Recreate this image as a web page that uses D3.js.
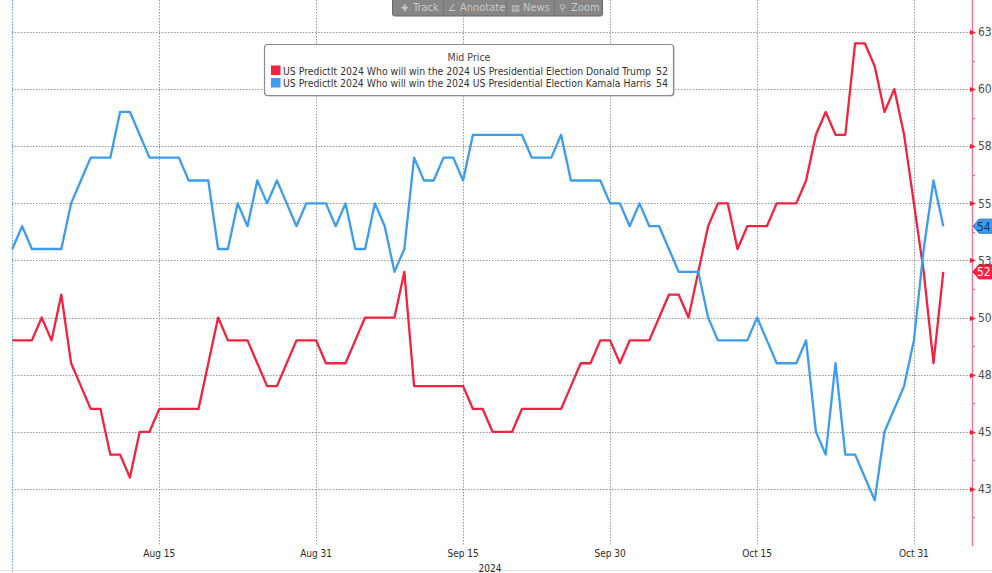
<!DOCTYPE html>
<html>
<head>
<meta charset="utf-8">
<script src="https://cdn.jsdelivr.net/npm/d3@7"></script>
<style>
  body { margin: 0; background: #fff; }
  svg { display: block; }
</style>
</head>
<body>
<script>
  var w = 992
  var h = 573

  //DATA (one point per day, starting 31 Jul 2024)
  var startDate = "2024-07-31";

  var trump = [49, 49, 49, 50, 49, 51, 48, 47, 46, 46,
      44, 44, 43, 45, 45, 46, 46, 46, 46, 46,
      48, 50, 49, 49, 49, 48, 47, 47, 48, 49,
      49, 49, 48, 48, 48, 49, 50, 50, 50, 50,
      52, 47, 47, 47, 47, 47, 47, 46, 46, 45,
      45, 45, 46, 46, 46, 46, 46, 47, 48, 48,
      49, 49, 48, 49, 49, 49, 50, 51, 51, 50,
      52, 54, 55, 55, 53, 54, 54, 54, 55, 55,
      55, 56, 58, 59, 58, 58, 62, 62, 61, 59,
      60, 58, 55, 52, 48, 52];

  var harris = [53, 54, 53, 53, 53, 53, 55, 56, 57, 57,
      57, 59, 59, 58, 57, 57, 57, 57, 56, 56,
      56, 53, 53, 55, 54, 56, 55, 56, 55, 54,
      55, 55, 55, 54, 55, 53, 53, 55, 54, 52,
      53, 57, 56, 56, 57, 57, 56, 58, 58, 58,
      58, 58, 58, 57, 57, 57, 58, 56, 56, 56,
      56, 55, 55, 54, 55, 54, 54, 53, 52, 52,
      52, 50, 49, 49, 49, 49, 50, 49, 48, 48,
      48, 49, 45, 44, 48, 44, 44, 43, 42, 45,
      46, 47, 49, 53, 56, 54];

  var seriesNames = ["US PredictIt 2024 Who will win the 2024 US Presidential Election Donald Trump",
      "US PredictIt 2024 Who will win the 2024 US Presidential Election Kamala Harris"];
  var seriesColors = ["#f3223f", "#3c9cee"];

  var yTicks = [42.5, 45, 47.5, 50, 52.5, 55, 57.5, 60, 62.5];
  var xTickDates = ["2024-08-15", "2024-08-31", "2024-09-15", "2024-09-30", "2024-10-15", "2024-10-31"];
  var xTickLabels = ["Aug 15", "Aug 31", "Sep 15", "Sep 30", "Oct 15", "Oct 31"];
  var yearLabel = "2024";
  var legendTitle = "Mid Price";
  var toolbarItems = [["\u271A", "Track"], ["\u2220", "Annotate"], ["\u25A4", "News"], ["\u26B2", "Zoom"]];

  var parse = d3.timeParse("%Y-%m-%d");
  var t0 = parse(startDate);
  var dates = trump.map(function (d, i) {
      return d3.timeDay.offset(t0, i);
  });

  var series = [trump, harris].map(function (vals, k) {
      return {
          name: seriesNames[k],
          color: seriesColors[k],
          last: vals[vals.length - 1],
          values: vals.map(function (v, i) { return { date: dates[i], value: v }; })
      };
  });

  var font = "'DejaVu Sans Condensed', 'DejaVu Sans', sans-serif";

  //SCALES

  var plotLeft = 12
  var axisX = 972

  var x = d3.scaleTime()
      .domain([t0, dates[dates.length - 1]])
      .range([12.3, 943.3]);

  var y = d3.scaleLinear()
      .domain([40, 62.5])
      .range([546, 32]);

  var svg = d3.select("body")
      .append("svg")
      .attr("width", w)
      .attr("height", h);

  //GRID

  svg.append("line")
      .attr("x1", plotLeft + 0.5).attr("x2", plotLeft + 0.5)
      .attr("y1", 0).attr("y2", h)
      .attr("stroke", "#7fb6e8")
      .attr("stroke-width", 1)
      .attr("stroke-dasharray", "2,1");

  svg.append("line")
      .attr("x1", 0).attr("x2", w)
      .attr("y1", h - 2.5).attr("y2", h - 2.5)
      .attr("stroke", "#e0e0e0");

  svg.selectAll(".hgrid")
      .data(yTicks)
      .enter()
      .append("line")
      .attr("class", "hgrid")
      .attr("x1", plotLeft)
      .attr("x2", axisX)
      .attr("y1", function (d) { return Math.round(y(d)) + 0.5; })
      .attr("y2", function (d) { return Math.round(y(d)) + 0.5; })
      .attr("stroke", "#969696")
      .attr("stroke-width", 1)
      .attr("stroke-dasharray", "1.5,1.5");

  svg.selectAll(".vgrid")
      .data(xTickDates)
      .enter()
      .append("line")
      .attr("class", "vgrid")
      .attr("x1", function (d) { return Math.round(x(parse(d))) + 0.5; })
      .attr("x2", function (d) { return Math.round(x(parse(d))) + 0.5; })
      .attr("y1", 0)
      .attr("y2", 546)
      .attr("stroke", "#969696")
      .attr("stroke-width", 1)
      .attr("stroke-dasharray", "1.5,1.5");

  //X LABELS

  svg.selectAll(".xlab")
      .data(xTickDates)
      .enter()
      .append("text")
      .attr("class", "xlab")
      .text(function (d, i) { return xTickLabels[i]; })
      .attr("x", function (d) { return x(parse(d)); })
      .attr("y", 557)
      .attr("text-anchor", "middle")
      .attr("font-family", font)
      .attr("font-size", "10px")
      .attr("fill", "#2a2a2a");

  svg.append("text")
      .text(yearLabel)
      .attr("x", 490)
      .attr("y", 572)
      .attr("text-anchor", "middle")
      .attr("font-family", font)
      .attr("font-size", "10px")
      .attr("fill", "#2a2a2a");

  //LINES

  var line = d3.line()
      .x(function (d) { return x(d.date); })
      .y(function (d) { return y(d.value); });

  svg.selectAll(".series")
      .data(series)
      .enter()
      .append("path")
      .attr("class", "series")
      .attr("d", function (d) { return line(d.values); })
      .attr("fill", "none")
      .attr("stroke", function (d) { return d.color; })
      .attr("stroke-width", 2.3)
      .attr("stroke-linejoin", "round");

  //RIGHT AXIS

  svg.append("line")
      .attr("x1", axisX + 0.5).attr("x2", axisX + 0.5)
      .attr("y1", 0).attr("y2", 546)
      .attr("stroke", "#f47088")
      .attr("stroke-width", 1.3);

  var minorTicks = d3.range(41.25, 63.5, 2.5);
  svg.selectAll(".minor")
      .data(minorTicks)
      .enter()
      .append("line")
      .attr("class", "minor")
      .attr("x1", axisX).attr("x2", axisX + 3)
      .attr("y1", function (d) { return Math.round(y(d)) + 0.5; })
      .attr("y2", function (d) { return Math.round(y(d)) + 0.5; })
      .attr("stroke", "#f47088")
      .attr("stroke-width", 1.2);

  svg.selectAll(".major")
      .data(yTicks)
      .enter()
      .append("path")
      .attr("class", "major")
      .attr("d", function (d) {
          var yy = Math.round(y(d)) + 0.5;
          return "M" + (axisX - 2) + "," + (yy - 2.5) + "L" + (axisX + 4) + "," + yy + "L" + (axisX - 2) + "," + (yy + 2.5) + "Z";
      })
      .attr("fill", "#f0203c");

  svg.selectAll(".ylab")
      .data(yTicks)
      .enter()
      .append("text")
      .attr("class", "ylab")
      .text(function (d) { return Math.round(d); })
      .attr("x", axisX + 6)
      .attr("y", function (d) { return y(d); })
      .attr("dy", "0.35em")
      .attr("font-family", font)
      .attr("font-size", "12px")
      .attr("fill", "#4d4d4d");

  //LAST VALUE BADGES

  var badges = svg.selectAll(".badge")
      .data(series)
      .enter()
      .append("g")
      .attr("class", "badge")
      .attr("transform", function (d) { return "translate(0," + y(d.last) + ")"; });

  badges.append("path")
      .attr("d", "M973,0L979,-7L993,-7L993,7L979,7Z")
      .attr("fill", function (d) { return d.color; })
      .attr("stroke", function (d, i) { return i == 0 ? "#c0102a" : "#2a74c0"; })
      .attr("stroke-width", 1);

  badges.append("text")
      .text(function (d) { return d.last; })
      .attr("x", 977)
      .attr("dy", "0.37em")
      .attr("font-family", font)
      .attr("font-size", "12px")
      .attr("fill", function (d, i) { return i == 0 ? "#fff0f2" : "#10325a"; });

  //LEGEND

  var lg = svg.append("g");

  lg.append("rect")
      .attr("x", 265.5).attr("y", 45.5)
      .attr("width", 409).attr("height", 51)
      .attr("rx", 3)
      .attr("fill", "#b8b8b8");

  lg.append("rect")
      .attr("x", 264.5).attr("y", 44.5)
      .attr("width", 409).attr("height", 51)
      .attr("rx", 3)
      .attr("fill", "#fff")
      .attr("stroke", "#8c8c8c")
      .attr("stroke-width", 1.2);

  lg.append("text")
      .text(legendTitle)
      .attr("x", 469)
      .attr("y", 61)
      .attr("text-anchor", "middle")
      .attr("font-family", font)
      .attr("font-size", "10.5px")
      .attr("fill", "#444");

  var rows = lg.selectAll(".lrow")
      .data(series)
      .enter()
      .append("g")
      .attr("class", "lrow")
      .attr("transform", function (d, i) { return "translate(0," + (i * 12.5) + ")"; });

  rows.append("rect")
      .attr("x", 271).attr("y", 65.5)
      .attr("width", 9.5).attr("height", 9.5)
      .attr("fill", function (d) { return d.color; });

  rows.append("text")
      .text(function (d) { return d.name; })
      .attr("x", 283)
      .attr("y", 74.5)
      .attr("textLength", 368)
      .attr("lengthAdjust", "spacingAndGlyphs")
      .attr("font-family", font)
      .attr("font-size", "10.5px")
      .attr("fill", "#333");

  rows.append("text")
      .text(function (d) { return d.last; })
      .attr("x", 668)
      .attr("y", 74.5)
      .attr("text-anchor", "end")
      .attr("font-family", font)
      .attr("font-size", "10.5px")
      .attr("fill", "#333");

  //TOOLBAR

  var tb = svg.append("g").attr("opacity", 0.88);

  tb.append("rect")
      .attr("x", 392.5).attr("y", -4)
      .attr("width", 210).attr("height", 20)
      .attr("rx", 2)
      .attr("fill", "#767676")
      .attr("stroke", "#555");

  var tbX = [398, 445, 508, 556];

  tbX.forEach(function (xx, i) {
      if (i > 0) {
          tb.append("line")
              .attr("x1", xx - 1.5).attr("x2", xx - 1.5)
              .attr("y1", -4).attr("y2", 16)
              .attr("stroke", "#606060");
      }
      tb.append("text")
          .text(toolbarItems[i][0])
          .attr("x", xx + 3)
          .attr("y", 11)
          .attr("font-family", "'DejaVu Sans', sans-serif")
          .attr("font-size", "9px")
          .attr("fill", "#c2c2c2");
      tb.append("text")
          .text(toolbarItems[i][1])
          .attr("x", xx + 15)
          .attr("y", 11)
          .attr("font-family", font)
          .attr("font-size", "11px")
          .attr("fill", "#c2c2c2");
  });
</script>
</body>
</html>
